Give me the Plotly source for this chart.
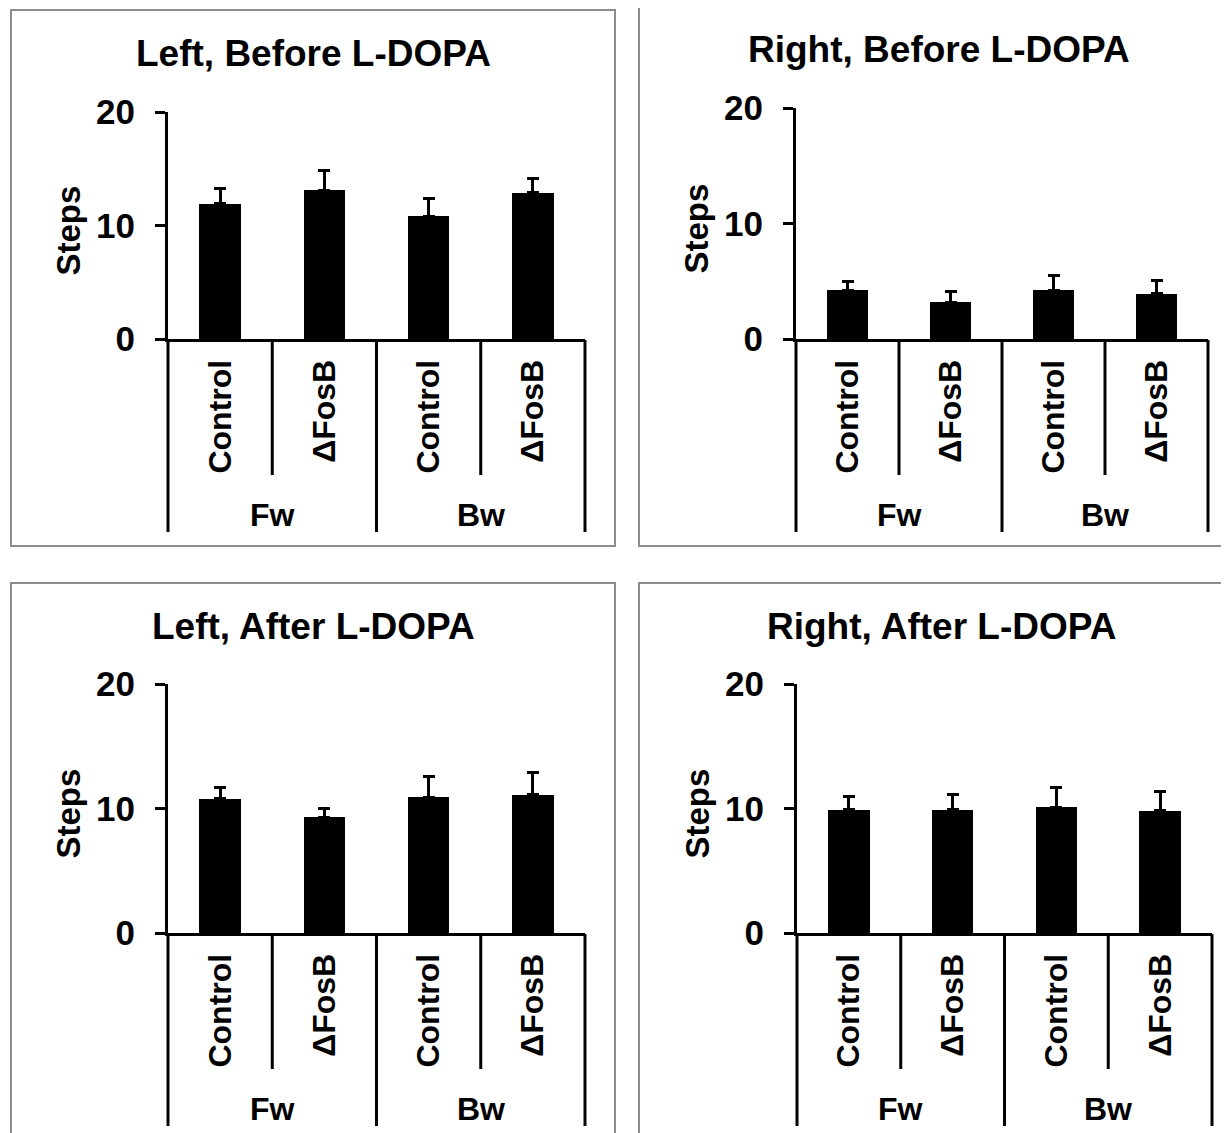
import plotly.graph_objects as go

# ---------------- data ----------------
groups = ["Fw", "Fw", "Bw", "Bw"]
conditions = ["Control", "ΔFosB", "Control", "ΔFosB"]
y_ticks = [0, 10, 20]

titles = ["Left, Before L-DOPA", "Right, Before L-DOPA",
          "Left, After L-DOPA", "Right, After L-DOPA"]

left_before = [11.9, 13.1, 10.8, 12.9]
left_before_err = [1.4, 1.75, 1.6, 1.2]
right_before = [4.2, 3.2, 4.2, 3.9]
right_before_err = [0.8, 0.9, 1.3, 1.2]
left_after = [10.8, 9.3, 10.9, 11.1]
left_after_err = [0.85, 0.7, 1.65, 1.8]
right_after = [9.9, 9.9, 10.1, 9.8]
right_after_err = [1.1, 1.25, 1.6, 1.6]

series = [(left_before, left_before_err), (right_before, right_before_err),
          (left_after, left_after_err), (right_after, right_after_err)]

# ---------------- layout geometry (pixels of the target picture) ----------------
OFF = 8                      # page body margin
W, H = 1229 - OFF, 1133 - OFF
FONT = "Liberation Sans, Arial, sans-serif"

panels = [
    dict(x0=168, x1=585, y0=339, y20=112, box=(11, 10, 615, 546), tc=(313, 53)),
    dict(x0=796, x1=1208, y0=339, y20=108, box=(639, 7, 1240, 546), tc=(939, 50)),
    dict(x0=168, x1=585, y0=933, y20=684, box=(11, 583, 615, 1140), tc=(313, 627)),
    dict(x0=797, x1=1212, y0=933, y20=684, box=(639, 583, 1240, 1140), tc=(941, 627)),
]

def px(v):
    return (v - OFF) / W

def py(v):
    return (H - (v - OFF)) / H

fig = go.Figure()
shapes = []
annotations = []
xpos = list(range(len(conditions)))

for i, (p, (vals, errs)) in enumerate(zip(panels, series)):
    n = "" if i == 0 else str(i + 1)
    fig.add_trace(go.Bar(
        x=xpos, y=vals, xaxis="x" + n, yaxis="y" + n,
        width=0.4, marker=dict(color="black", line=dict(width=0)),
        error_y=dict(type="data", array=errs, arrayminus=[0] * len(errs),
                     symmetric=False, color="black", thickness=3, width=6),
        showlegend=False,
    ))
    xa = dict(domain=[px(p["x0"]), px(p["x1"])], range=[-0.5, len(conditions) - 0.5],
              anchor="y" + n, showline=True, linecolor="black", linewidth=3,
              ticks="", tickvals=xpos, ticktext=conditions, tickangle=-90,
              ticklabelstandoff=5, showgrid=False, zeroline=False, automargin=False,
              tickfont=dict(family=FONT, size=32, color="black", weight="bold"))
    ya = dict(domain=[py(p["y0"]), py(p["y20"])], range=[0, 20], anchor="x" + n,
              showline=True, linecolor="black", linewidth=3, ticks="outside",
              ticklen=10, tickwidth=3, tickcolor="black", tickvals=y_ticks,
              ticklabelstandoff=13, showgrid=False, zeroline=False, automargin=False,
              tickfont=dict(family=FONT, size=35, color="black", weight="bold"))
    fig.update_layout(**{"xaxis" + n: xa, "yaxis" + n: ya})

    ncat = len(conditions)
    for k in range(ncat + 1):
        is_outer = (k == 0 or k == ncat or groups[k - 1] != groups[k])
        depth = 193 if is_outer else 136
        shapes.append(dict(type="line", xref="x" + n + " domain", yref="paper",
                           x0=k / ncat, x1=k / ncat,
                           y0=py(p["y0"] + 1), y1=py(p["y0"] + depth),
                           line=dict(color="black", width=3)))
    seen = []
    for g in groups:
        if g in seen:
            continue
        seen.append(g)
        idx = [j for j, gg in enumerate(groups) if gg == g]
        cx = (idx[0] + idx[-1]) / 2
        annotations.append(dict(x=cx, xref="x" + n, y=py(p["y0"] + 176), yref="paper",
                                text=g, showarrow=False, xanchor="center", yanchor="middle",
                                font=dict(family=FONT, size=32, color="black", weight="bold")))
    annotations.append(dict(x=px(p["x0"] - 100), xref="paper",
                            y=py((p["y0"] + p["y20"]) / 2 + 5), yref="paper",
                            text="Steps", textangle=-90, showarrow=False,
                            xanchor="center", yanchor="middle",
                            font=dict(family=FONT, size=33, color="black", weight="bold")))
    annotations.append(dict(x=px(p["tc"][0]), xref="paper", y=py(p["tc"][1]), yref="paper",
                            text=titles[i], showarrow=False, xanchor="center", yanchor="middle",
                            font=dict(family=FONT, size=37, color="black", weight="bold")))
    bx0, by0, bx1, by1 = p["box"]
    shapes.append(dict(type="rect", xref="paper", yref="paper",
                       x0=px(bx0), x1=px(bx1), y0=py(by1), y1=py(by0),
                       line=dict(color="#8c8c8c", width=2), layer="below"))

fig.update_layout(width=W, height=H, template="none",
                  margin=dict(l=0, r=0, t=0, b=0, pad=0, autoexpand=False),
                  paper_bgcolor="white", plot_bgcolor="rgba(0,0,0,0)",
                  shapes=shapes, annotations=annotations, bargap=0)

fig.write_html("out.html")
